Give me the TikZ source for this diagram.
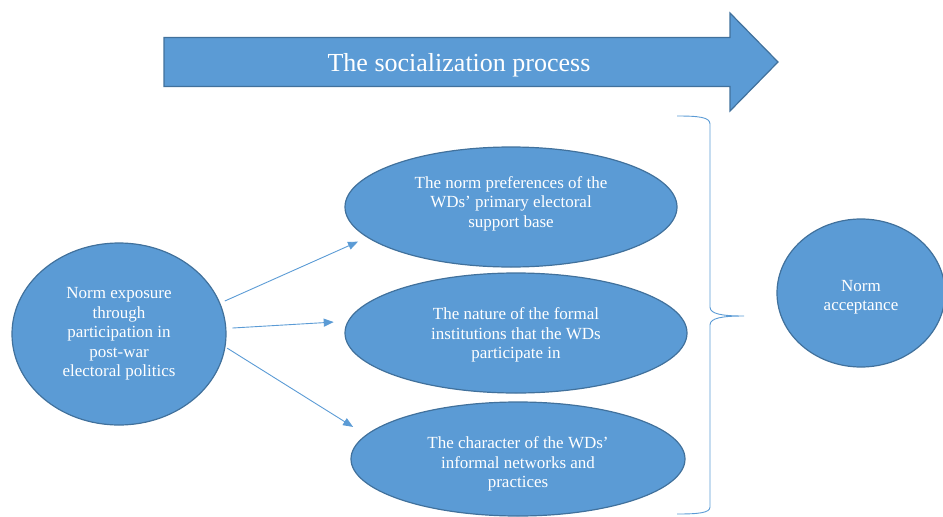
\documentclass[tikz,border=0pt]{standalone}
\usepackage{fontspec}
\setmainfont{Liberation Serif}
\usetikzlibrary{shapes.geometric,arrows.meta}
\definecolor{fillblue}{HTML}{5B9BD5}
\definecolor{edgeblue}{HTML}{41719C}
% struts that lower or raise a block of centred lines
\newcommand{\lowerby}[1]{\rule{0pt}{\dimexpr 11.7pt+#1\relax}}
\newcommand{\raiseby}[1]{\rule[-\dimexpr 3.7pt+#1\relax]{0pt}{1pt}}
\begin{document}
\begin{tikzpicture}[x=1pt,y=-1pt,
  bubble/.style={ellipse, draw=edgeblue, fill=fillblue, line width=1.2pt,
    text=white, align=center, inner sep=0pt,
    font=\fontsize{17}{19.5}\selectfont},
  link/.style={draw=fillblue, line width=0.9pt,
    -{Triangle[length=10pt,width=8pt]}},
  bracket/.style={draw=fillblue, line width=0.9pt}]
\useasboundingbox (0,0) rectangle (943,517);

% process arrow across the top
\fill[fillblue, draw=edgeblue, line width=1.2pt]
  (164,37.5) -- (730,37.5) -- (730,13) -- (778,62) -- (730,111)
  -- (730,86.5) -- (164,86.5) -- cycle;
\node[text=white, font=\fontsize{26}{30}\selectfont, anchor=base, inner sep=0pt]
  (title) at (459,71) {The socialization process};

% ellipses
\node[bubble, minimum width=214pt, minimum height=182pt] (exposure) at (119,334)
  {Norm exposure\\through\\participation in\\post-war\\electoral politics};
\node[bubble, minimum width=332pt, minimum height=120pt] (base) at (511,207)
  {The norm preferences of the\\WDs’ primary electoral\\support base\raiseby{7pt}};
\node[bubble, minimum width=342pt, minimum height=120pt] (formal) at (516,333)
  {\lowerby{4pt}The nature of the formal\\institutions that the WDs\\participate in};
\node[bubble, minimum width=334pt, minimum height=114pt] (informal) at (518,459)
  {\lowerby{10pt}The character of the WDs’\\informal networks and\\practices};
\node[bubble, minimum width=168pt, minimum height=148pt] (accept) at (861,293)
  {\lowerby{8pt}Norm\\acceptance};

% connectors
\draw[link, shorten <=5pt, shorten >=10pt] (exposure.17) -- (base.192);
\draw[link, shorten <=6pt, shorten >=14pt] (exposure.3) -- (formal.176);
\draw[link, shorten <=2pt, shorten >=15pt] (exposure.-7) -- (informal.171);

% right-hand brace grouping the three factors
\coordinate (bt) at (677,116);
\coordinate (bm) at (744,316);
\coordinate (bb) at (677,514);
\draw[bracket] (bt) .. controls (698,116) and (710,117) .. (710,124)
  -- (710,307) .. controls (710,314) and (722,316) .. (bm)
  .. controls (722,316) and (710,318) .. (710,325)
  -- (710,507) .. controls (710,513) and (698,514) .. (bb);
\end{tikzpicture}
\end{document}
